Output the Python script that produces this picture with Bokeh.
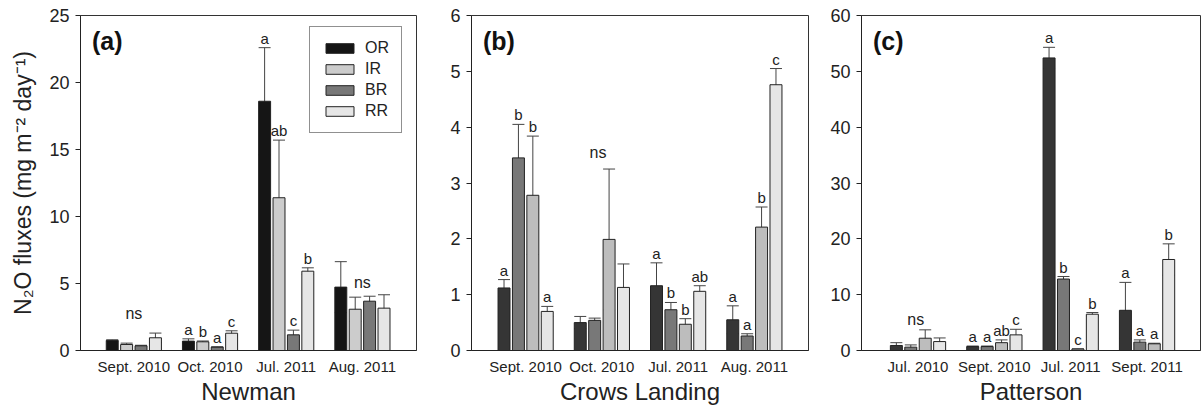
from bokeh.plotting import figure
from bokeh.models import (Range1d, FixedTicker, ColumnDataSource, Whisker, TeeHead,
                          Legend, LegendItem, Label)
from bokeh.layouts import row
from bokeh.embed import file_html
from bokeh.resources import INLINE
from bokeh.core.properties import value

FONT = "Liberation Sans"

# ---------------- data ----------------
# Panel (a) Newman
newman_cats = ["Sept. 2010", "Oct. 2010", "Jul. 2011", "Aug. 2011"]
newman_names = ["OR", "IR", "BR", "RR"]
newman_OR = [0.75, 0.70, 18.6, 4.73]
newman_OR_err = [0.05, 0.17, 4.0, 1.9]
newman_IR = [0.45, 0.65, 11.4, 3.08]
newman_IR_err = [0.10, 0.06, 4.3, 0.9]
newman_BR = [0.35, 0.25, 1.17, 3.68]
newman_BR_err = [0.04, 0.03, 0.35, 0.37]
newman_RR = [0.95, 1.29, 5.92, 3.16]
newman_RR_err = [0.35, 0.18, 0.25, 1.0]
newman_letters = [["", "a", "a", ""], ["", "b", "ab", ""], ["", "a", "c", ""], ["", "c", "b", ""]]
newman_ns = [("ns", 1, 2.76), ("ns", 4, 5.07)]

# Panel (b) Crows Landing
crows_cats = ["Sept. 2010", "Oct. 2010", "Jul. 2011", "Aug. 2011"]
crows_names = ["OR", "BR", "IR", "RR"]
crows_OR = [1.12, 0.50, 1.16, 0.55]
crows_OR_err = [0.15, 0.11, 0.41, 0.25]
crows_BR = [3.45, 0.54, 0.73, 0.26]
crows_BR_err = [0.60, 0.04, 0.13, 0.04]
crows_IR = [2.78, 1.99, 0.47, 2.21]
crows_IR_err = [1.06, 1.26, 0.10, 0.36]
crows_RR = [0.70, 1.13, 1.06, 4.76]
crows_RR_err = [0.09, 0.42, 0.10, 0.29]
crows_letters = [["a", "", "a", "a"], ["b", "", "b", "a"], ["b", "", "b", "b"], ["a", "", "ab", "c"]]
crows_ns = [("ns", 1.95, 3.55)]

# Panel (c) Patterson
patt_cats = ["Jul. 2010", "Sept. 2010", "Jul. 2011", "Sept. 2011"]
patt_names = ["OR", "BR", "IR", "RR"]
patt_OR = [0.9, 0.7, 52.4, 7.2]
patt_OR_err = [0.5, 0.1, 1.9, 5.0]
patt_BR = [0.6, 0.7, 12.8, 1.5]
patt_BR_err = [0.4, 0.1, 0.45, 0.4]
patt_IR = [2.2, 1.4, 0.25, 1.2]
patt_IR_err = [1.5, 0.5, 0.05, 0.1]
patt_RR = [1.6, 2.8, 6.5, 16.3]
patt_RR_err = [0.65, 1.0, 0.3, 2.8]
patt_letters = [["", "a", "a", "a"], ["", "a", "b", "a"], ["", "ab", "c", "a"], ["", "c", "b", "b"]]
patt_ns = [("ns", 0.97, 5.5)]

colors_a = ["#151515", "#cccccc", "#787878", "#e6e6e6"]
colors_bc = ["#353535", "#787878", "#bdbdbd", "#e6e6e6"]

STEP = 0.189
BARW = 0.157


def make_panel(cats, names, vals, errs, letters, colors, ymax, ystep, xlabel, tag,
               ns_list, min_left, frame_w, min_right, xr, ylabel=None, legend=False):
    p = figure(frame_width=frame_w, frame_height=335,
               min_border_left=min_left, min_border_right=min_right,
               min_border_top=15, min_border_bottom=58,
               x_range=Range1d(*xr), y_range=Range1d(0, ymax),
               output_backend="svg", toolbar_location=None)
    p.xgrid.visible = False
    p.ygrid.visible = False
    p.outline_line_color = "#333333"
    p.outline_line_width = 1
    p.background_fill_color = "white"
    p.border_fill_color = "white"

    renderers = []
    for k in range(4):
        xs = [i + 1 + (k - 1.5) * STEP for i in range(4)]
        src = ColumnDataSource(dict(
            x=xs, top=vals[k],
            upper=[v + e for v, e in zip(vals[k], errs[k])],
            lower=[v - e for v, e in zip(vals[k], errs[k])],
            lab=letters[k]))
        r = p.vbar(x="x", top="top", width=BARW, bottom=0, source=src,
                   fill_color=colors[k], line_color="#222222", line_width=1)
        renderers.append(r)
        w = Whisker(base="x", upper="upper", lower="lower", source=src,
                    dimension="height", line_color="#444444", line_width=1,
                    upper_head=TeeHead(size=12, line_color="#444444", line_width=1),
                    lower_head=TeeHead(size=12, line_color="#444444", line_width=1))
        p.add_layout(w)
        p.text(x="x", y="upper", text="lab", source=src, text_align="center",
               text_baseline="bottom", y_offset=-1, text_font=value(FONT),
               text_font_size="15px", text_color="#222222")

    ns_src = ColumnDataSource(dict(x=[n[1] for n in ns_list], y=[n[2] for n in ns_list],
                                   t=[n[0] for n in ns_list]))
    p.text(x="x", y="y", text="t", source=ns_src, text_align="center",
           text_baseline="middle", text_font=value(FONT), text_font_size="16px",
           text_color="#222222")

    # axes
    p.xaxis.ticker = FixedTicker(ticks=[1, 2, 3, 4])
    p.xaxis.major_label_overrides = {i + 1: c for i, c in enumerate(cats)}
    p.xaxis.major_tick_line_color = None
    p.xaxis.major_tick_out = 0
    p.xaxis.major_tick_in = 0
    p.xaxis.minor_tick_line_color = None
    p.xaxis.axis_line_color = "#222222"
    p.xaxis.major_label_text_font = FONT
    p.xaxis.major_label_text_font_size = "15px"
    p.xaxis.major_label_text_color = "#222222"
    p.xaxis.major_label_standoff = 7
    p.xaxis.axis_label = xlabel
    p.xaxis.axis_label_text_font = FONT
    p.xaxis.axis_label_text_font_size = "24px"
    p.xaxis.axis_label_text_font_style = "normal"
    p.xaxis.axis_label_text_color = "#222222"
    p.xaxis.axis_label_standoff = 0

    p.yaxis.ticker = FixedTicker(ticks=[i * ystep for i in range(int(round(ymax / ystep)) + 1)])
    p.yaxis.minor_tick_line_color = None
    p.yaxis.major_tick_out = 5
    p.yaxis.major_tick_in = 0
    p.yaxis.major_tick_line_color = "#222222"
    p.yaxis.axis_line_color = "#222222"
    p.yaxis.major_label_text_font = FONT
    p.yaxis.major_label_text_font_size = "18px"
    p.yaxis.major_label_text_color = "#222222"
    p.yaxis.major_label_standoff = 6
    if ylabel:
        p.yaxis.axis_label = ylabel
        p.yaxis.axis_label_text_font = FONT
        p.yaxis.axis_label_text_font_size = "23px"
        p.yaxis.axis_label_text_font_style = "normal"
        p.yaxis.axis_label_text_color = "#222222"
        p.yaxis.axis_label_standoff = 10

    lab = Label(x=xr[0] + 0.15, y=ymax * 0.925, text=tag, text_font=FONT,
                text_font_size="25px", text_font_style="bold", text_color="#111111",
                text_baseline="middle")
    p.add_layout(lab)

    if legend:
        leg = Legend(items=[LegendItem(label=n, renderers=[r]) for n, r in zip(names, renderers)],
                     location=(229, 217), orientation="vertical")
        leg.border_line_color = "#222222"
        leg.border_line_width = 1
        leg.background_fill_alpha = 1
        leg.label_text_font = FONT
        leg.label_text_font_size = "16px"
        leg.label_text_color = "#222222"
        leg.glyph_width = 35
        leg.glyph_height = 12
        leg.label_height = 12
        leg.label_standoff = 8
        leg.spacing = 3
        leg.padding = 12
        leg.margin = 0
        p.add_layout(leg)
    return p


pa = make_panel(newman_cats, newman_names,
                [newman_OR, newman_IR, newman_BR, newman_RR],
                [newman_OR_err, newman_IR_err, newman_BR_err, newman_RR_err],
                newman_letters, colors_a, 25, 5, "Newman", "(a)", newman_ns,
                80, 336, 14, (0.30, 4.71),
                ylabel="N\u2082O fluxes (mg m\u207b\u00b2 day\u207b\u00b9)", legend=True)
pb = make_panel(crows_cats, crows_names,
                [crows_OR, crows_BR, crows_IR, crows_RR],
                [crows_OR_err, crows_BR_err, crows_IR_err, crows_RR_err],
                crows_letters, colors_bc, 6, 1, "Crows Landing", "(b)", crows_ns,
                41, 337, 11, (0.29, 4.71))
pc = make_panel(patt_cats, patt_names,
                [patt_OR, patt_BR, patt_IR, patt_RR],
                [patt_OR_err, patt_BR_err, patt_IR_err, patt_RR_err],
                patt_letters, colors_bc, 60, 10, "Patterson", "(c)", patt_ns,
                42, 339, 3, (0.26, 4.70))

layout = row(pa, pb, pc, spacing=0)
open("out.html", "w").write(file_html(layout, INLINE))
